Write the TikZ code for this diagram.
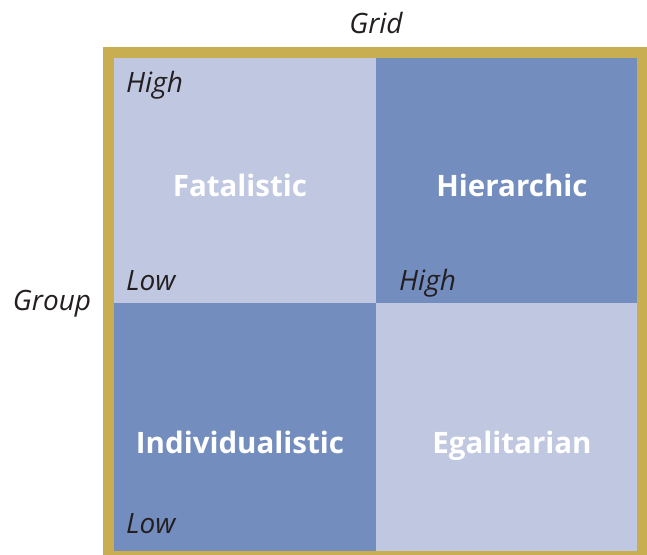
\documentclass[tikz,border=0pt]{standalone}
\usepackage{fontspec}
\setmainfont{Open Sans}
\definecolor{gold}{HTML}{C8AE50}
\definecolor{lightq}{HTML}{C0C7E0}
\definecolor{darkq}{HTML}{738DBE}
\definecolor{txt}{HTML}{231F20}
\begin{document}
\begin{tikzpicture}[x=1pt,y=-1pt,
  type/.style={text=white,font=\fontsize{29.5}{34}\selectfont\bfseries,inner sep=0pt,anchor=base},
  axis/.style={text=txt,font=\fontsize{28}{32}\selectfont\itshape,inner sep=0pt,anchor=base},
  corner/.style={text=txt,font=\fontsize{28}{32}\selectfont\itshape,inner sep=0pt,anchor=base west}]
\useasboundingbox (0,0) rectangle (647,554);
\fill[gold] (103,47) rectangle (647,562);
\fill[lightq] (114,58) rectangle (375.5,303);
\fill[darkq] (375.5,58) rectangle (637,303);
\fill[darkq] (114,303) rectangle (375.5,551);
\fill[lightq] (375.5,303) rectangle (637,551);
\node[type] (fat) at (240,196) {Fatalistic};
\node[type] (hie) at (512,196) {Hierarchic};
\node[type] (ind) at (240,453) {Individualistic};
\node[type] (ega) at (512,453) {Egalitarian};
\node[axis] (grid) at (376,33) {Grid};
\node[axis] (group) at (52,310) {Group};
\node[corner] (h1) at (126,92) {High};
\node[corner] (l1) at (126,290) {Low};
\node[corner] (h2) at (399,290) {High};
\node[corner] (l2) at (126,533) {Low};
\end{tikzpicture}
\end{document}
